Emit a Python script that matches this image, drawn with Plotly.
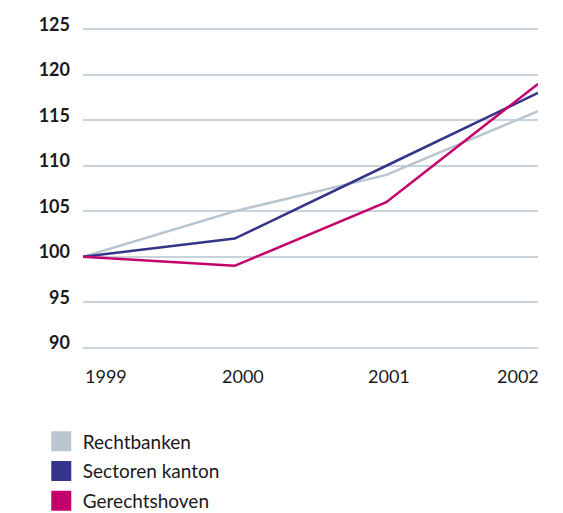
import plotly.graph_objects as go

years = [1999, 2000, 2001, 2002]
year_labels = ["1999", "2000", "2001", "2002"]
rechtbanken = [100, 105, 109, 116]
sectoren_kanton = [100, 102, 110, 118]
gerechtshoven = [100, 99, 106, 119]

series = [
    ("Rechtbanken", rechtbanken, "#b9c6cf"),
    ("Sectoren kanton", sectoren_kanton, "#34358a"),
    ("Gerechtshoven", gerechtshoven, "#c4006c"),
]

fig = go.Figure()

# lines (no legend entry)
for name, vals, col in series:
    fig.add_trace(go.Scatter(
        x=years, y=vals, mode="lines", name=name, legendgroup=name,
        line=dict(color=col, width=2.5), showlegend=False,
    ))

# legend entries with square swatches
for name, vals, col in series:
    fig.add_trace(go.Scatter(
        x=[None], y=[None], mode="markers", name=name, legendgroup=name,
        marker=dict(symbol="square", size=20, color=col,
                    line=dict(color=col, width=4)),
    ))

# x tick labels as annotations (first left-aligned, last right-aligned)
anchors = ["left", "center", "center", "right"]
shifts = [0, 8, 3, 3]
for yr, lab, anc, sh in zip(years, year_labels, anchors, shifts):
    fig.add_annotation(
        x=yr, y=0, xref="x", yref="paper", text=lab,
        showarrow=False, xanchor=anc, yanchor="top", yshift=-13, xshift=sh,
        font=dict(size=18, color="#1a1a1a"),
    )

fig.update_layout(
    width=555, height=505,
    margin=dict(l=75, r=25, t=19, b=163, autoexpand=False),
    paper_bgcolor="white", plot_bgcolor="white",
    font=dict(family="Lato, sans-serif", color="#1a1a1a"),
    legend=dict(
        x=-0.095, y=-0.2245, xanchor="left", yanchor="top",
        font=dict(size=19, color="#1a1a1a"),
        itemsizing="trace", tracegroupgap=2, itemwidth=33,
        bgcolor="rgba(0,0,0,0)",
    ),
    showlegend=True,
)
fig.update_xaxes(
    range=[1999, 2002], showgrid=False, zeroline=False,
    showticklabels=False, showline=False,
)
# range padded so the 90 and 125 gridlines are drawn
fig.update_yaxes(
    range=[89.75, 125.25], tickvals=[90, 95, 100, 105, 110, 115, 120, 125],
    showgrid=True, gridcolor="#c9d3dc", gridwidth=1.5, zeroline=False,
    showline=False, ticks="", ticklabelstandoff=12, ticklabelshift=-5,
    tickfont=dict(size=18, family="Lato, sans-serif", weight="bold", color="#1a1a1a"),
)

fig.write_html("out.html")
